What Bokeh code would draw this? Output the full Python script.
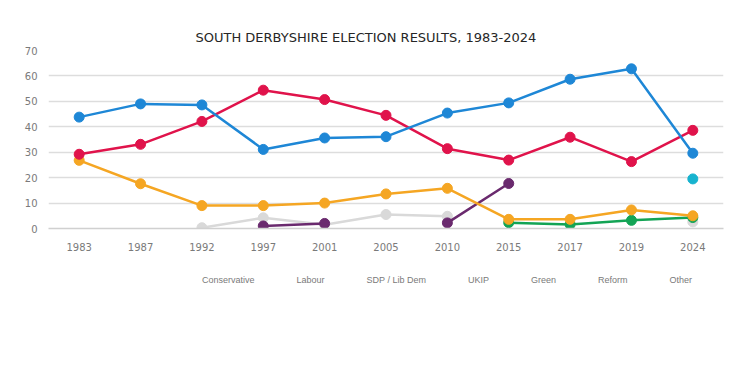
import math
from bokeh.plotting import figure
from bokeh.models import Legend, LegendItem, FixedTicker, Range1d
from bokeh.layouts import column
from bokeh.embed import file_html
from bokeh.resources import INLINE

nan = float("nan")

years = ["1983", "1987", "1992", "1997", "2001", "2005", "2010", "2015", "2017", "2019", "2024"]
conservative = [43.8, 49.0, 48.6, 31.1, 35.6, 36.1, 45.4, 49.4, 58.7, 62.8, 29.6]
labour = [29.2, 33.1, 42.1, 54.4, 50.7, 44.5, 31.4, 26.9, 35.9, 26.3, 38.6]
libdem = [26.8, 17.6, 9.0, 9.0, 10.0, 13.6, 15.8, 3.6, 3.6, 7.3, 5.0]
ukip = [nan, nan, nan, 1.0, 2.0, nan, 2.2, 17.7, nan, nan, nan]
green = [nan, nan, nan, nan, nan, nan, nan, 2.3, 1.6, 3.2, 4.3]
reform = [nan, nan, nan, nan, nan, nan, nan, nan, nan, nan, 19.5]
other = [nan, nan, 0.3, 4.2, 1.5, 5.5, 4.8, nan, nan, nan, 2.6]

series = [
    ("Conservative", conservative, "#1E87D6"),
    ("Labour", labour, "#E0134B"),
    ("SDP / Lib Dem", libdem, "#F5A623"),
    ("UKIP", ukip, "#6A2A6E"),
    ("Green", green, "#13A455"),
    ("Reform", reform, "#17B3CF"),
    ("Other", other, "#D9D9D9"),
]
draw_order = ["Other", "Reform", "Green", "UKIP", "SDP / Lib Dem", "Labour", "Conservative"]

p = figure(frame_width=675, frame_height=178, x_range=years, y_range=(0, 70),
           output_backend="svg", toolbar_location=None,
           min_border_left=48, min_border_right=11, min_border_top=50,
           min_border_bottom=0)

p.title.text = "SOUTH DERBYSHIRE ELECTION RESULTS, 1983-2024"
p.title.align = "left"
p.title.offset = 147
p.title.vertical_align = "middle"
p.title.text_font = "DejaVu Sans"
p.title.text_font_size = "13px"
p.title.text_font_style = "normal"
p.title.text_color = "#262626"

p.x_range.range_padding = 0
p.outline_line_color = None
p.background_fill_color = "white"
p.border_fill_color = "white"

p.xgrid.grid_line_color = None
p.ygrid.grid_line_color = "#DDDDDD"
p.ygrid.grid_line_width = 1.5

tick_col = "#7A7A7A"
p.yaxis.ticker = FixedTicker(ticks=[0, 10, 20, 30, 40, 50, 60, 70])
p.yaxis.axis_line_color = None
p.yaxis.major_tick_line_color = None
p.yaxis.minor_tick_line_color = None
p.yaxis.major_label_text_color = tick_col
p.yaxis.major_label_text_font = "DejaVu Sans"
p.yaxis.major_label_text_font_size = "10px"

p.xaxis.axis_line_color = "#D0D0D0"
p.xaxis.axis_line_width = 1.5
p.xaxis.major_tick_line_color = None
p.xaxis.minor_tick_line_color = None
p.xaxis.major_label_text_color = tick_col
p.xaxis.major_label_text_font = "DejaVu Sans"
p.xaxis.major_label_text_font_size = "10px"
p.xaxis.major_label_standoff = 8

for name in draw_order:
    vals, col = [(v, c) for n, v, c in series if n == name][0]
    p.line(years, vals, line_color=col, line_width=2.5)
    p.scatter(years, vals, size=10, fill_color=col, line_color=col)

# Legend figure stacked under the chart
lg = figure(width=734, height=50, x_range=Range1d(0, 1), y_range=Range1d(0, 1),
            output_backend="svg", toolbar_location=None,
            min_border_left=0, min_border_right=0, min_border_top=0,
            min_border_bottom=0)
lg.axis.visible = False
lg.grid.visible = False
lg.outline_line_color = None
lg.border_fill_color = "white"
lg.background_fill_color = "white"

items = []
for name, vals, col in series:
    l_r = lg.line(x=[], y=[], line_color=col, line_width=2.5)
    s_r = lg.scatter(x=[], y=[], size=7, fill_color=col, line_color=col)
    items.append(LegendItem(label=name, renderers=[l_r, s_r]))

legend = Legend(items=items, orientation="horizontal", location=(127, 17),
                label_text_font="Liberation Sans", label_text_font_size="9px",
                label_text_color=tick_col, glyph_width=24, glyph_height=12,
                spacing=15, label_standoff=3, border_line_color=None,
                background_fill_alpha=0, margin=0, padding=0)
lg.add_layout(legend, "center")

layout = column(p, lg, spacing=0)
open("out.html", "w").write(file_html(layout, INLINE))
